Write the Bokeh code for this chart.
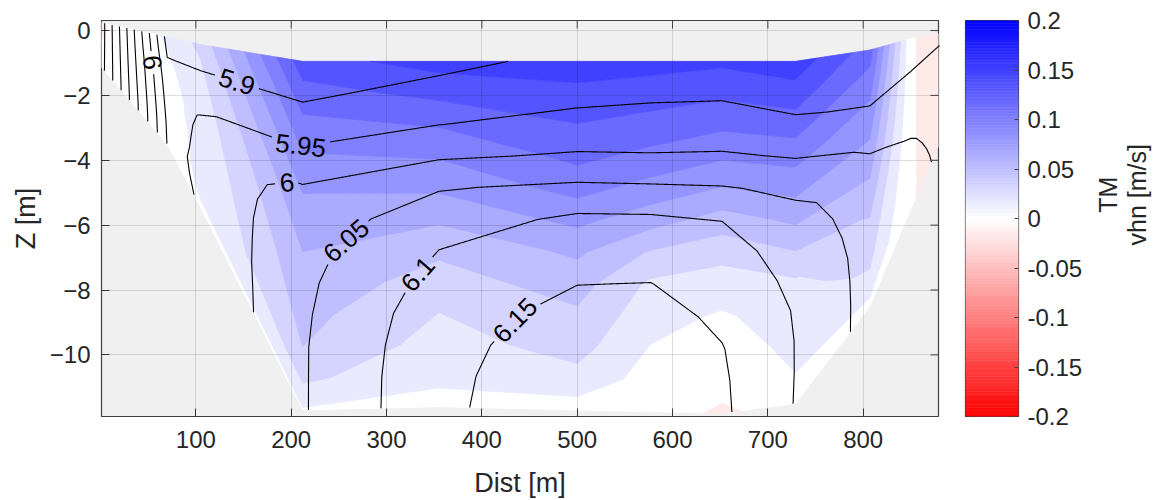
import numpy as np
import contourpy
from bokeh.plotting import figure
from bokeh.layouts import row
from bokeh.models import FixedTicker
from bokeh.embed import file_html
from bokeh.resources import INLINE
from bokeh.core.properties import value

FONT = "Liberation Sans"
INK = "#262626"

# ---------------- data ----------------
# cross-section stations: distance [m], top and bottom of the data column [m]
station_x = [0, 35, 70, 105, 212, 355, 500, 577, 652, 729, 807, 850, 880]
surface_z = [0.25, 0.03, -0.2, -0.43, -0.95, -0.95, -0.95, -0.95, -0.95, -0.95, -0.6, -0.25, -0.1]
bottom_z = [-1.1, -2.3, -3.5, -5.45, -11.7, -11.6, -11.7, -11.75, -11.8, -11.5, -8.5, -5.5, -3.5]

# vhn [m/s] per station, from top to bottom (12 layers)
vhn_000 = [-0.0017, -0.0017, -0.0017, -0.0017, -0.0008, 0.0008, 0.0017, 0.0025, 0.0033, 0.0033, 0.0033, 0.0033]
vhn_035 = [0.0100, 0.0100, 0.0100, 0.0100, 0.0100, 0.0100, 0.0100, 0.0100, 0.0092, 0.0083, 0.0075, 0.0050]
vhn_070 = [0.0183, 0.0167, 0.0150, 0.0133, 0.0117, 0.0100, 0.0100, 0.0083, 0.0083, 0.0083, 0.0067, 0.0050]
vhn_105 = [0.0383, 0.0333, 0.0300, 0.0267, 0.0250, 0.0233, 0.0225, 0.0217, 0.0208, 0.0200, 0.0183, 0.0150]
vhn_212 = [0.1433, 0.1267, 0.1117, 0.0983, 0.0850, 0.0750, 0.0667, 0.0600, 0.0550, 0.0500, 0.0367, 0.0150]
vhn_355 = [0.1567, 0.1383, 0.1183, 0.1017, 0.0867, 0.0700, 0.0533, 0.0433, 0.0333, 0.0267, 0.0200, 0.0117]
vhn_500 = [0.1583, 0.1460, 0.1328, 0.1207, 0.1057, 0.0877, 0.0697, 0.0572, 0.0472, 0.0395, 0.0280, 0.0083]
vhn_577 = [0.1567, 0.1417, 0.1267, 0.1117, 0.0933, 0.0733, 0.0483, 0.0300, 0.0233, 0.0158, 0.0100, 0.0067]
vhn_652 = [0.1533, 0.1367, 0.1200, 0.1017, 0.0817, 0.0583, 0.0383, 0.0250, 0.0142, 0.0083, 0.0050, -0.0025]
vhn_729 = [0.1600, 0.1433, 0.1250, 0.1067, 0.0900, 0.0717, 0.0517, 0.0325, 0.0267, 0.0217, 0.0167, 0.0067]
vhn_807 = [0.1250, 0.1133, 0.1017, 0.0917, 0.0817, 0.0717, 0.0617, 0.0517, 0.0433, 0.0367, 0.0283, 0.0100]
vhn_850 = [0.0025, 0.0025, 0.0025, 0.0025, 0.0025, 0.0025, 0.0025, 0.0025, 0.0025, 0.0025, 0.0025, 0.0017]
vhn_880 = [-0.0133, -0.0133, -0.0133, -0.0133, -0.0133, -0.0133, -0.0125, -0.0125, -0.0117, -0.0117, -0.0108, -0.0100]

# contoured scalar (line field) per station, from top to bottom
temp_000 = [6.328, 6.328, 6.328, 6.327, 6.327, 6.326, 6.326, 6.325, 6.325, 6.324, 6.324, 6.323]
temp_035 = [6.102, 6.104, 6.106, 6.108, 6.110, 6.112, 6.114, 6.116, 6.118, 6.120, 6.122, 6.123]
temp_070 = [5.881, 5.890, 5.899, 5.910, 5.918, 5.925, 5.930, 5.935, 5.940, 5.944, 5.946, 5.948]
temp_105 = [5.875, 5.890, 5.903, 5.918, 5.940, 5.953, 5.956, 5.956, 5.955, 5.954, 5.952, 5.9505]
temp_212 = [5.860, 5.890, 5.925, 5.962, 6.005, 6.025, 6.035, 6.041, 6.044, 6.046, 6.046, 6.046]
temp_355 = [5.885, 5.918, 5.949, 5.993, 6.046, 6.075, 6.100, 6.115, 6.128, 6.135, 6.139, 6.140]
temp_500 = [5.915, 5.935, 5.967, 6.006, 6.060, 6.110, 6.130, 6.149, 6.165, 6.175, 6.180, 6.185]
temp_577 = [5.920, 5.943, 5.966, 6.005, 6.058, 6.110, 6.132, 6.151, 6.166, 6.176, 6.182, 6.186]
temp_652 = [5.925, 5.944, 5.970, 6.007, 6.055, 6.100, 6.118, 6.130, 6.142, 6.152, 6.156, 6.158]
temp_729 = [5.920, 5.935, 5.956, 5.995, 6.037, 6.065, 6.080, 6.090, 6.097, 6.099, 6.099, 6.098]
temp_807 = [5.915, 5.928, 5.942, 5.962, 5.990, 6.012, 6.020, 6.026, 6.030, 6.032, 6.033, 6.033]
temp_850 = [5.925, 5.937, 5.949, 5.958, 5.968, 5.980, 5.996, 6.005, 6.010, 6.012, 6.013, 6.013]
temp_880 = [5.945, 5.949, 5.955, 5.960, 5.965, 5.970, 5.975, 5.980, 5.985, 5.990, 5.993, 5.995]

temp_levels = [5.9, 5.95, 6.0, 6.05, 6.1, 6.15, 6.2, 6.25, 6.3]

# contour labels: text, level and approximate place [m]
label_text = ["6", "5.9", "5.95", "6", "6.05", "6.1", "6.15"]
label_level = [6.0, 5.9, 5.95, 6.0, 6.05, 6.1, 6.15]
label_near_x = [54.5, 141.6, 209.7, 196.0, 257.0, 330.0, 430.0]
label_near_z = [-0.98, -1.69, -3.56, -4.85, -6.45, -7.43, -8.82]

x_ticks = [100, 200, 300, 400, 500, 600, 700, 800]
z_ticks = [0, -2, -4, -6, -8, -10]
cbar_ticks = [-0.2, -0.15, -0.1, -0.05, 0.0, 0.05, 0.1, 0.15, 0.2]
cbar_tick_labels = ["-0.2", "-0.15", "-0.1", "-0.05", "0", "0.05", "0.1", "0.15", "0.2"]
cbar_title = ["TM", "vhn [m/s]"]

# ---------------- grid ----------------
vhn_cols = [vhn_000, vhn_035, vhn_070, vhn_105, vhn_212, vhn_355, vhn_500,
            vhn_577, vhn_652, vhn_729, vhn_807, vhn_850, vhn_880]
temp_cols = [temp_000, temp_035, temp_070, temp_105, temp_212, temp_355, temp_500,
             temp_577, temp_652, temp_729, temp_807, temp_850, temp_880]
n_layers = len(vhn_000)
sigma = np.linspace(0.0, 1.0, n_layers)
X = np.asarray(station_x, float)
ZS = np.asarray(surface_z, float)
ZB = np.asarray(bottom_z, float)
XX = np.tile(X, (n_layers, 1))
ZZ = ZS[None, :] + sigma[:, None] * (ZB - ZS)[None, :]
V = np.column_stack(vhn_cols)
T = np.column_stack(temp_cols)

x_lo, x_hi = 1.0, 879.0
z_lo, z_hi = -11.9, 0.31
W_MAIN, H_ALL = 960, 500
BL, BR, BT, BB = 101, 22, 20, 83
FW = W_MAIN - BL - BR
FH = H_ALL - BT - BB
SX = FW / (x_hi - x_lo)
SZ = FH / (z_hi - z_lo)
LABEL_PX = 26
TICK_LEN = 8


def rwb(v):
    f = max(-1.0, min(1.0, v / 0.2))
    if f >= 0:
        c = int(round(255 * (1 - f)))
        return "#%02x%02x%02x" % (c, c, 255)
    c = int(round(255 * (1 + f)))
    return "#%02x%02x%02x" % (255, c, c)


vhn_levels = np.linspace(-0.2, 0.2, 25)

# ---------------- main figure ----------------
p = figure(width=W_MAIN, height=H_ALL, x_range=(x_lo, x_hi), y_range=(z_lo, z_hi),
           output_backend="svg", toolbar_location=None,
           min_border_left=BL, min_border_right=BR, min_border_top=BT, min_border_bottom=BB)
p.background_fill_color = "#f0f0f0"
p.border_fill_color = "white"
p.outline_line_color = "#404040"
p.outline_line_width = 1.2

# filled contours of vhn
gen_v = contourpy.contour_generator(XX, ZZ, V, name="serial", fill_type="OuterOffset")
pxs, pys, pcol = [], [], []
for lo, hi in zip(vhn_levels[:-1], vhn_levels[1:]):
    pts_list, off_list = gen_v.filled(lo, hi)
    col = rwb(lo)
    for pts, offs in zip(pts_list, off_list):
        rx, ry = [], []
        for a, b in zip(offs[:-1], offs[1:]):
            rx.append(pts[a:b, 0].tolist())
            ry.append(pts[a:b, 1].tolist())
        pxs.append([rx])
        pys.append([ry])
        pcol.append(col)
p.multi_polygons(xs=pxs, ys=pys, fill_color=pcol, line_color=pcol, line_width=0.8)

# contour lines of the scalar field with gaps for labels
gen_t = contourpy.contour_generator(XX, ZZ, T, name="serial", line_type="Separate")


def densify(seg, step=1.0):
    pts = [seg[0]]
    for a, b in zip(seg[:-1], seg[1:]):
        d = np.hypot((b[0] - a[0]) * SX, (b[1] - a[1]) * SZ)
        n = max(1, int(np.ceil(d / step)))
        t = np.arange(1, n + 1) / n
        pts.extend(a + (b - a) * t[:, None])
    return np.array(pts)


line_sets = {}
for lev in temp_levels:
    line_sets[lev] = [densify(np.asarray(s)) for s in gen_t.lines(lev) if len(s) > 1]


def text_width(s, size):
    return sum(0.556 if c.isdigit() else 0.278 for c in s) * size


lab_x, lab_z, lab_a = [], [], []
cuts = {lev: [] for lev in temp_levels}
for txt, lev, nx, nz in zip(label_text, label_level, label_near_x, label_near_z):
    best = None
    for si, seg in enumerate(line_sets[lev]):
        d = np.hypot((seg[:, 0] - nx) * SX, (seg[:, 1] - nz) * SZ)
        j = int(np.argmin(d))
        if best is None or d[j] < best[0]:
            best = (d[j], si, j)
    if best is None:
        continue
    _, si, j = best
    seg = line_sets[lev][si]
    a = seg[max(0, j - 8)]
    b = seg[min(len(seg) - 1, j + 8)]
    ang = np.arctan2((b[1] - a[1]) * SZ, (b[0] - a[0]) * SX)
    if ang > np.pi / 2:
        ang -= np.pi
    if ang < -np.pi / 2:
        ang += np.pi
    lab_x.append(float(seg[j, 0]))
    lab_z.append(float(seg[j, 1]))
    lab_a.append(float(ang))
    cuts[lev].append((seg[j, 0], seg[j, 1], text_width(txt, LABEL_PX) / 2 + 4))

mx, mz = [], []
for lev in temp_levels:
    for seg in line_sets[lev]:
        keep = np.ones(len(seg), bool)
        for cx, cz, r in cuts[lev]:
            keep &= np.hypot((seg[:, 0] - cx) * SX, (seg[:, 1] - cz) * SZ) > r
        idx = np.flatnonzero(keep)
        if len(idx) == 0:
            continue
        for run in np.split(idx, np.flatnonzero(np.diff(idx) > 1) + 1):
            if len(run) >= 2:
                mx.append(seg[run, 0].tolist())
                mz.append(seg[run, 1].tolist())

# axes / grid
p.xgrid.ticker = FixedTicker(ticks=x_ticks)
p.ygrid.ticker = FixedTicker(ticks=z_ticks)
p.grid.grid_line_color = "black"
p.grid.grid_line_alpha = 0.13
p.grid.grid_line_width = 1
p.xgrid.level = "annotation"
p.ygrid.level = "annotation"

lr = p.multi_line(xs=mx, ys=mz, line_color="black", line_width=1.1)
lr.level = "overlay"
tr = p.text(x=lab_x, y=lab_z, text=label_text, angle=lab_a, text_align="center",
            text_baseline="middle", text_font=value(FONT), text_font_size=f"{LABEL_PX}px",
            text_color="black")
tr.level = "overlay"

# inward ticks on the top and right edges of the box
tk_x = [float(t) for t in x_ticks]
tk_z = [float(t) for t in z_ticks]
r1 = p.segment(x0=tk_x, y0=[z_hi] * len(tk_x), x1=tk_x, y1=[z_hi - TICK_LEN / SZ] * len(tk_x),
               line_color="#404040", line_width=1)
r2 = p.segment(x0=[x_hi] * len(tk_z), y0=tk_z, x1=[x_hi - TICK_LEN / SX] * len(tk_z), y1=tk_z,
               line_color="#404040", line_width=1)
r1.level = "overlay"
r2.level = "overlay"

for ax, ticks, lab in ((p.below[0], x_ticks, "Dist [m]"), (p.left[0], z_ticks, "Z [m]")):
    ax.ticker = FixedTicker(ticks=ticks)
    ax.axis_label = lab
    ax.axis_label_text_font = FONT
    ax.axis_label_text_font_style = "normal"
    ax.axis_label_text_font_size = "27px"
    ax.axis_label_text_color = INK
    ax.major_label_text_font = FONT
    ax.major_label_text_font_size = "24px"
    ax.major_label_text_color = INK
    ax.major_tick_in = TICK_LEN
    ax.major_tick_out = 0
    ax.minor_tick_in = 0
    ax.minor_tick_out = 0
    ax.major_tick_line_color = "#404040"
    ax.axis_line_color = None
p.below[0].major_label_standoff = 14
p.below[0].axis_label_standoff = 17
p.left[0].major_label_standoff = 11
p.left[0].axis_label_standoff = 6

# ---------------- colour bar ----------------
CBW = 130
cb = figure(width=CBW, height=H_ALL, x_range=(0, 1), y_range=(-0.2, 0.2),
            output_backend="svg", toolbar_location=None, y_axis_location="right",
            min_border_left=5, min_border_right=CBW - 5 - 53, min_border_top=20, min_border_bottom=84)
cb.xaxis.visible = False
cb.grid.visible = False
cb.outline_line_color = "#404040"
cb.outline_line_width = 1.2
cb.border_fill_color = "white"
edges = np.linspace(-0.2, 0.2, 129)
mids = (edges[:-1] + edges[1:]) / 2
cols = [rwb(v) for v in mids]
cb.quad(left=0, right=1, bottom=edges[:-1], top=edges[1:], fill_color=cols, line_color=cols, line_width=0.5)
cax = cb.right[0]
cax.ticker = FixedTicker(ticks=cbar_ticks)
cax.major_label_overrides = {t: s for t, s in zip(cbar_ticks, cbar_tick_labels)}
cax.major_label_text_font = FONT
cax.major_label_text_font_size = "24px"
cax.major_label_text_color = INK
cax.major_tick_in = 4
cax.major_tick_out = 0
cax.minor_tick_in = 0
cax.minor_tick_out = 0
cax.major_tick_line_color = "#404040"
cax.axis_line_color = None
cax.major_label_standoff = 9

# colour-bar title, rotated
LW = 1164 - W_MAIN - CBW
lf = figure(width=LW, height=H_ALL, x_range=(0, LW), y_range=(0, H_ALL),
            output_backend="svg", toolbar_location=None, x_axis_type=None, y_axis_type=None,
            min_border_left=0, min_border_right=0, min_border_top=0, min_border_bottom=0)
lf.outline_line_color = None
lf.grid.visible = False
lf.background_fill_color = "white"
lf.border_fill_color = "white"
lf.text(x=[1107 - W_MAIN - CBW, 1136 - W_MAIN - CBW], y=[H_ALL - 220, H_ALL - 220], text=cbar_title,
        angle=np.pi / 2, text_align="center", text_baseline="middle",
        text_font=value(FONT), text_font_size="25px", text_color=INK)

layout = row(p, cb, lf)
open("out.html", "w").write(file_html(layout, INLINE))
